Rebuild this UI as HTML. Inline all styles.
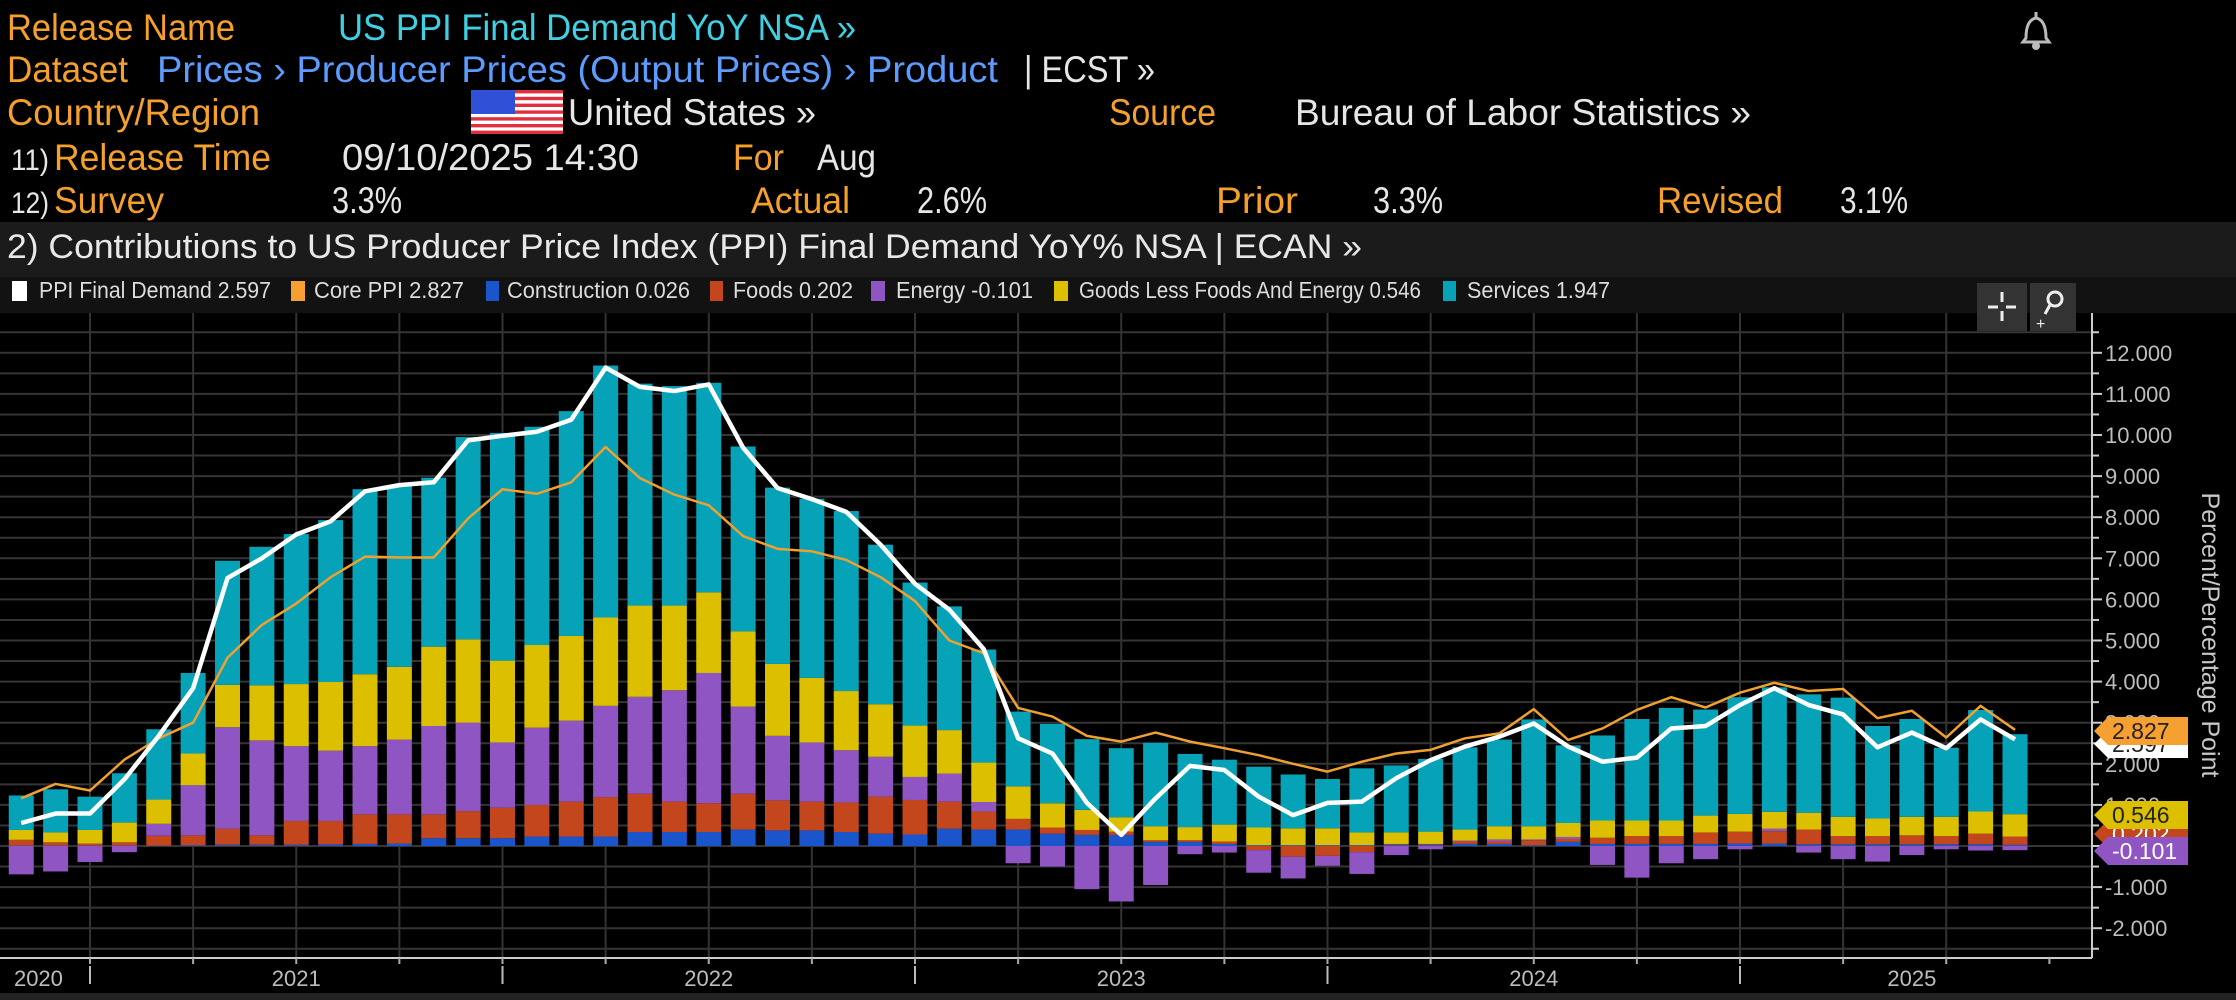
<!DOCTYPE html>
<html><head><meta charset="utf-8"><style>
html,body{margin:0;padding:0;background:#000;}
svg{display:block;font-family:"Liberation Sans",sans-serif;}
</style></head><body>
<svg id="chart" width="2236" height="1000" viewBox="0 0 2236 1000" xmlns="http://www.w3.org/2000/svg">
<rect x="0" y="0" width="2236" height="1000" fill="#000"/>
<!-- Header -->
<g font-size="37">
<text x="7" y="40" fill="#f5a02a" textLength="228" lengthAdjust="spacingAndGlyphs">Release Name</text>
<text x="338" y="40" fill="#3fd0e4" textLength="518" lengthAdjust="spacingAndGlyphs">US PPI Final Demand YoY NSA »</text>
<g fill="none" stroke="#bbb" stroke-width="3"><path d="M2026 38 q0 -18 10 -20 q10 2 10 20 l3 4 h-26 z"/><circle cx="2036" cy="46" r="2.5" fill="#bbb"/><line x1="2036" y1="12" x2="2036" y2="17"/></g>
<text x="7" y="82" fill="#f5a02a" textLength="121" lengthAdjust="spacingAndGlyphs">Dataset</text>
<text x="157" y="82" fill="#5c9cff" textLength="841" lengthAdjust="spacingAndGlyphs">Prices › Producer Prices (Output Prices) › Product</text>
<text x="1024" y="82" fill="#e6e6e6" textLength="131" lengthAdjust="spacingAndGlyphs">| ECST »</text>
<text x="7" y="125" fill="#f5a02a" textLength="253" lengthAdjust="spacingAndGlyphs">Country/Region</text>
<g>
<rect x="471" y="90" width="92" height="44" fill="#fff"/>
<rect x="471" y="90" width="92" height="3.4" fill="#e03040"/><rect x="471" y="96.8" width="92" height="3.4" fill="#e03040"/><rect x="471" y="103.6" width="92" height="3.4" fill="#e03040"/><rect x="471" y="110.4" width="92" height="3.4" fill="#e03040"/><rect x="471" y="117.2" width="92" height="3.4" fill="#e03040"/><rect x="471" y="124" width="92" height="3.4" fill="#e03040"/><rect x="471" y="130.6" width="92" height="3.4" fill="#e03040"/>
<rect x="471" y="90" width="44" height="24" fill="#3050d8"/>
</g>
<text x="568" y="125" fill="#e6e6e6" textLength="248" lengthAdjust="spacingAndGlyphs">United States »</text>
<text x="1109" y="125" fill="#f5a02a" textLength="107" lengthAdjust="spacingAndGlyphs">Source</text>
<text x="1295" y="125" fill="#e6e6e6" textLength="456" lengthAdjust="spacingAndGlyphs">Bureau of Labor Statistics »</text>
<text x="11" y="170" fill="#e6e6e6" font-size="30" textLength="38" lengthAdjust="spacingAndGlyphs">11)</text>
<text x="54" y="170" fill="#f5a02a" textLength="217" lengthAdjust="spacingAndGlyphs">Release Time</text>
<text x="342" y="170" fill="#e6e6e6" textLength="297" lengthAdjust="spacingAndGlyphs">09/10/2025 14:30</text>
<text x="733" y="170" fill="#f5a02a" textLength="51" lengthAdjust="spacingAndGlyphs">For</text>
<text x="817" y="170" fill="#e6e6e6" textLength="59" lengthAdjust="spacingAndGlyphs">Aug</text>
<text x="11" y="213" fill="#e6e6e6" font-size="30" textLength="38" lengthAdjust="spacingAndGlyphs">12)</text>
<text x="54" y="213" fill="#f5a02a" textLength="110" lengthAdjust="spacingAndGlyphs">Survey</text>
<text x="332" y="213" fill="#e6e6e6" textLength="70" lengthAdjust="spacingAndGlyphs">3.3%</text>
<text x="751" y="213" fill="#f5a02a" textLength="99" lengthAdjust="spacingAndGlyphs">Actual</text>
<text x="917" y="213" fill="#e6e6e6" textLength="70" lengthAdjust="spacingAndGlyphs">2.6%</text>
<text x="1216" y="213" fill="#f5a02a" textLength="82" lengthAdjust="spacingAndGlyphs">Prior</text>
<text x="1373" y="213" fill="#e6e6e6" textLength="70" lengthAdjust="spacingAndGlyphs">3.3%</text>
<text x="1657" y="213" fill="#f5a02a" textLength="126" lengthAdjust="spacingAndGlyphs">Revised</text>
<text x="1840" y="213" fill="#e6e6e6" textLength="68" lengthAdjust="spacingAndGlyphs">3.1%</text>
</g>
<rect x="0" y="222" width="2236" height="55" fill="#1b1b1b"/>
<text x="7" y="258" fill="#e8e8e8" font-size="34" textLength="1355" lengthAdjust="spacingAndGlyphs">2) Contributions to US Producer Price Index (PPI) Final Demand YoY% NSA | ECAN »</text>
<rect x="0" y="277" width="2236" height="36" fill="#121212"/>
<g font-size="23" fill="#dcdcdc">
<rect x="12" y="281" width="15" height="20" fill="#fff"/>
<text x="39" y="298" textLength="232" lengthAdjust="spacingAndGlyphs">PPI Final Demand 2.597</text>
<rect x="291" y="281" width="14" height="20" fill="#f5a030"/>
<text x="314" y="298" textLength="150" lengthAdjust="spacingAndGlyphs">Core PPI 2.827</text>
<rect x="486" y="281" width="13" height="20" fill="#1a55cc"/>
<text x="507" y="298" textLength="183" lengthAdjust="spacingAndGlyphs">Construction 0.026</text>
<rect x="710" y="281" width="13" height="20" fill="#c4461c"/>
<text x="733" y="298" textLength="120" lengthAdjust="spacingAndGlyphs">Foods 0.202</text>
<rect x="871" y="281" width="14" height="20" fill="#8f55c2"/>
<text x="896" y="298" textLength="137" lengthAdjust="spacingAndGlyphs">Energy -0.101</text>
<rect x="1054" y="281" width="14" height="20" fill="#dcc000"/>
<text x="1079" y="298" textLength="342" lengthAdjust="spacingAndGlyphs">Goods Less Foods And Energy 0.546</text>
<rect x="1443" y="281" width="13" height="20" fill="#05a2b8"/>
<text x="1467" y="298" textLength="143" lengthAdjust="spacingAndGlyphs">Services 1.947</text>
</g>
<g id="plot"></g>
<g><rect x="1977" y="283" width="50" height="48" fill="#333"/><g stroke="#eee" stroke-width="3"><line x1="1988" y1="307" x2="1998" y2="307"/><line x1="2006" y1="307" x2="2016" y2="307"/><line x1="2002" y1="292" x2="2002" y2="302"/><line x1="2002" y1="311" x2="2002" y2="321"/></g></g>
<g><rect x="2030" y="283" width="46" height="48" fill="#333"/><circle cx="2055" cy="299" r="7" fill="none" stroke="#eee" stroke-width="3"/><line x1="2050" y1="305" x2="2045" y2="314" stroke="#eee" stroke-width="3"/><text x="2036" y="329" fill="#eee" font-size="16">+</text></g>
<rect x="0" y="993" width="2236" height="7" fill="#222"/>
</svg>
<script>
const services=[0.84,1.05,0.81,1.2,1.71,1.96,3.02,3.37,3.65,3.94,4.5,4.42,4.11,4.92,5.54,5.31,5.47,6.13,5.4,5.34,5.1,4.5,4.29,4.36,4.38,3.88,3.48,3.01,2.75,1.82,1.93,1.72,1.68,2.03,1.78,1.58,1.48,1.31,1.2,1.56,1.63,1.77,2.0,2.11,2.6,1.89,2.07,2.47,2.74,2.58,2.84,3.03,2.88,2.9,2.25,2.38,1.68,2.47,1.947];
const goods=[0.24,0.24,0.33,0.48,0.59,0.77,1.03,1.34,1.51,1.67,1.75,1.77,1.93,2.03,1.99,2.01,2.06,2.15,2.22,2.06,1.96,1.83,1.75,1.57,1.44,1.28,1.25,1.06,0.96,0.79,0.59,0.49,0.35,0.34,0.32,0.41,0.43,0.41,0.41,0.31,0.28,0.3,0.27,0.32,0.32,0.34,0.42,0.38,0.38,0.41,0.43,0.41,0.41,0.47,0.43,0.45,0.47,0.54,0.546];
const energy=[-0.69,-0.62,-0.39,-0.15,0.29,1.22,2.47,2.31,1.82,1.71,1.66,1.82,2.15,2.15,1.59,1.88,1.97,2.22,2.36,2.71,3.17,2.12,1.57,1.44,1.27,0.97,0.56,0.68,0.23,-0.42,-0.5,-1.05,-1.35,-0.95,-0.2,-0.16,-0.55,-0.53,-0.24,-0.53,-0.22,-0.08,0.02,0.05,0.02,0.05,-0.46,-0.77,-0.42,-0.32,-0.08,0.06,-0.16,-0.32,-0.38,-0.22,-0.08,-0.11,-0.101];
const foods=[0.14,0.08,0.05,0.08,0.24,0.24,0.39,0.23,0.58,0.57,0.72,0.71,0.58,0.66,0.74,0.77,0.85,0.96,0.93,0.74,0.7,0.87,0.73,0.7,0.72,0.9,0.84,0.66,0.44,0.26,0.15,0.12,0.08,0.04,0.04,0.06,-0.1,-0.26,-0.24,-0.15,0.02,0.02,0.06,0.06,0.12,0.07,0.15,0.19,0.19,0.28,0.29,0.3,0.36,0.2,0.2,0.22,0.2,0.26,0.202];
const construction=[0.01,0.01,0.01,0.01,0.01,0.02,0.03,0.03,0.03,0.04,0.05,0.06,0.19,0.19,0.19,0.23,0.23,0.23,0.34,0.34,0.34,0.4,0.38,0.38,0.34,0.3,0.28,0.42,0.4,0.4,0.3,0.27,0.27,0.1,0.1,0.05,0.02,0.02,0.02,0.02,0.03,0.03,0.05,0.05,0.02,0.1,0.05,0.05,0.05,0.05,0.06,0.06,0.04,0.04,0.04,0.04,0.04,0.04,0.026];
const ppi=[0.56,0.79,0.79,1.62,2.68,3.84,6.52,7.0,7.58,7.9,8.63,8.78,8.85,9.87,9.98,10.08,10.37,11.64,11.17,11.07,11.23,9.69,8.71,8.44,8.13,7.33,6.38,5.75,4.79,2.62,2.25,1.05,0.27,1.16,1.95,1.85,1.2,0.75,1.05,1.08,1.65,2.09,2.42,2.66,2.98,2.42,2.05,2.15,2.86,2.92,3.43,3.84,3.43,3.2,2.4,2.76,2.38,3.08,2.597];
const core=[1.16,1.51,1.35,2.1,2.62,3.0,4.58,5.38,5.9,6.54,7.04,7.02,7.02,7.97,8.68,8.57,8.85,9.71,8.95,8.55,8.29,7.54,7.23,7.17,6.96,6.54,5.96,5.0,4.69,3.36,3.15,2.68,2.54,2.76,2.54,2.38,2.21,2.0,1.81,2.05,2.25,2.34,2.62,2.74,3.33,2.58,2.86,3.31,3.62,3.37,3.73,3.97,3.77,3.82,3.11,3.29,2.64,3.41,2.827];
const yTickValues=[-2,-1,0,1,2,3,4,5,6,7,8,9,10,11,12];
const yearLabels=['2020','2021','2022','2023','2024','2025'];
const yearLabelMonth=[-1.5,6,18,30,42,53];
const lastValues=[2.597,2.827,0.026,0.202,-0.101,0.546,1.947];

const NS='http://www.w3.org/2000/svg';
const plot=document.getElementById('plot');
const Y0=846, UNIT=41.1, PLOT_TOP=313, PLOT_BOTTOM=958, AXIS_X=2092;
const MONTH=34.375, X_JAN21=90;
function y(v){return Y0-v*UNIT;}
function xm(m){return X_JAN21+m*MONTH;}
function xBar(i){return xm(i-2);}
function mk(tag,attrs,parent){const e=document.createElementNS(NS,tag);for(const k in attrs)e.setAttribute(k,attrs[k]);(parent||plot).appendChild(e);return e;}

// horizontal grid every 0.5
for(let v=-2.5;v<=12.5;v+=0.5){
  const g=mk('line',{x1:0,x2:AXIS_X,y1:y(v),y2:y(v),stroke:'#353535','stroke-width':2});
  
  
}
// vertical quarterly grid
const nBars=services.length;
for(let m=0;m<=xm(nBars)-1;m+=3){
  const x=xm(m); if(x>xBar(nBars-1)-20) break;
  const g=mk('line',{x1:x,x2:x,y1:PLOT_TOP,y2:PLOT_BOTTOM,stroke:'#333','stroke-width':2});
  
  
}
// bars
const series=[['construction',construction,'#1a55cc'],['foods',foods,'#c4461c'],['energy',energy,'#8f55c2'],['goods',goods,'#dcc000'],['services',services,'#05a2b8']];
const BW=25;
for(let i=0;i<nBars;i++){
  let pos=0,neg=0;
  for(const [name,arr,col] of series){
    const v=arr[i]; let y1,y2;
    if(v>=0){y1=y(pos+v);y2=y(pos);pos+=v;}else{y1=y(neg);y2=y(neg+v);neg+=v;}
    const r=mk('rect',{x:xBar(i)-BW/2,y:y1,width:BW,height:Math.max(0,y2-y1),fill:col});
    
    
  }
}
// lines
function line(arr,col,w,name){
  const p=mk('polyline',{points:arr.map((v,i)=>xBar(i)+','+y(v)).join(' '),fill:'none',stroke:col,'stroke-width':w,'stroke-linejoin':'round'});
  
  
}
line(core,'#f0a030',2.5,'core-ppi-line');
line(ppi,'#ffffff',4.5,'ppi-final-demand-line');

// axes
const ax=mk('line',{x1:AXIS_X,x2:AXIS_X,y1:PLOT_TOP,y2:PLOT_BOTTOM,stroke:'#ccc','stroke-width':2});


const bx=mk('line',{x1:0,x2:AXIS_X,y1:PLOT_BOTTOM,y2:PLOT_BOTTOM,stroke:'#ccc','stroke-width':2});


for(let v=-2.5;v<=12.5;v+=0.5){
  const t=mk('line',{x1:AXIS_X,x2:AXIS_X+(Number.isInteger(v)?10:7),y1:y(v),y2:y(v),stroke:'#ccc','stroke-width':2});
  
  
}
for(const v of yTickValues){
  const t=mk('text',{x:AXIS_X+13,y:y(v)+8,fill:'#bdbdbd','font-size':22});
  t.textContent=v.toFixed(3);
  
  
}
const yt=mk('text',{x:0,y:0,fill:'#c8c8c8','font-size':25,'text-anchor':'middle',transform:'translate(2202,635) rotate(90)'});
yt.textContent='Percent/Percentage Point';


// x ticks
for(let m=-3;xm(m)<AXIS_X;m+=3){
  const t=mk('line',{x1:xm(m),x2:xm(m),y1:PLOT_BOTTOM,y2:PLOT_BOTTOM+6,stroke:'#aaa','stroke-width':2});
  
  
}
for(let yr=0;yr<5;yr++){
  const t=mk('line',{x1:xm(yr*12),x2:xm(yr*12),y1:PLOT_BOTTOM+8,y2:PLOT_BOTTOM+26,stroke:'#bbb','stroke-width':2});
  
  
}
yearLabels.forEach((lab,k)=>{
  const t=mk('text',{x:xm(yearLabelMonth[k]),y:986,fill:'#bdbdbd','font-size':22,'text-anchor':'middle'});
  t.textContent=lab;
  
  
});
// value tags
function tag(cy,fill,txtCol,text,name){
  const g=mk('g',{});
  
  
  mk('path',{d:`M2094 ${cy} L2108 ${cy-14} H2188 V${cy+14} H2108 Z`,fill:fill},g);
  const t=mk('text',{x:2112,y:cy+8,fill:txtCol,'font-size':23},g);
  t.textContent=text;
}
tag(744,'#ffffff','#222',lastValues[0].toFixed(3),'ppi-value-tag');
tag(731,'#f5a030','#222',lastValues[1].toFixed(3),'core-value-tag');
tag(834,'#c4461c','#fff',lastValues[3].toFixed(3),'foods-value-tag');
tag(815,'#dcc000','#222',lastValues[5].toFixed(3),'goods-value-tag');
tag(851,'#8f55c2','#fff',lastValues[4].toFixed(3),'energy-value-tag');
</script>
</body></html>
